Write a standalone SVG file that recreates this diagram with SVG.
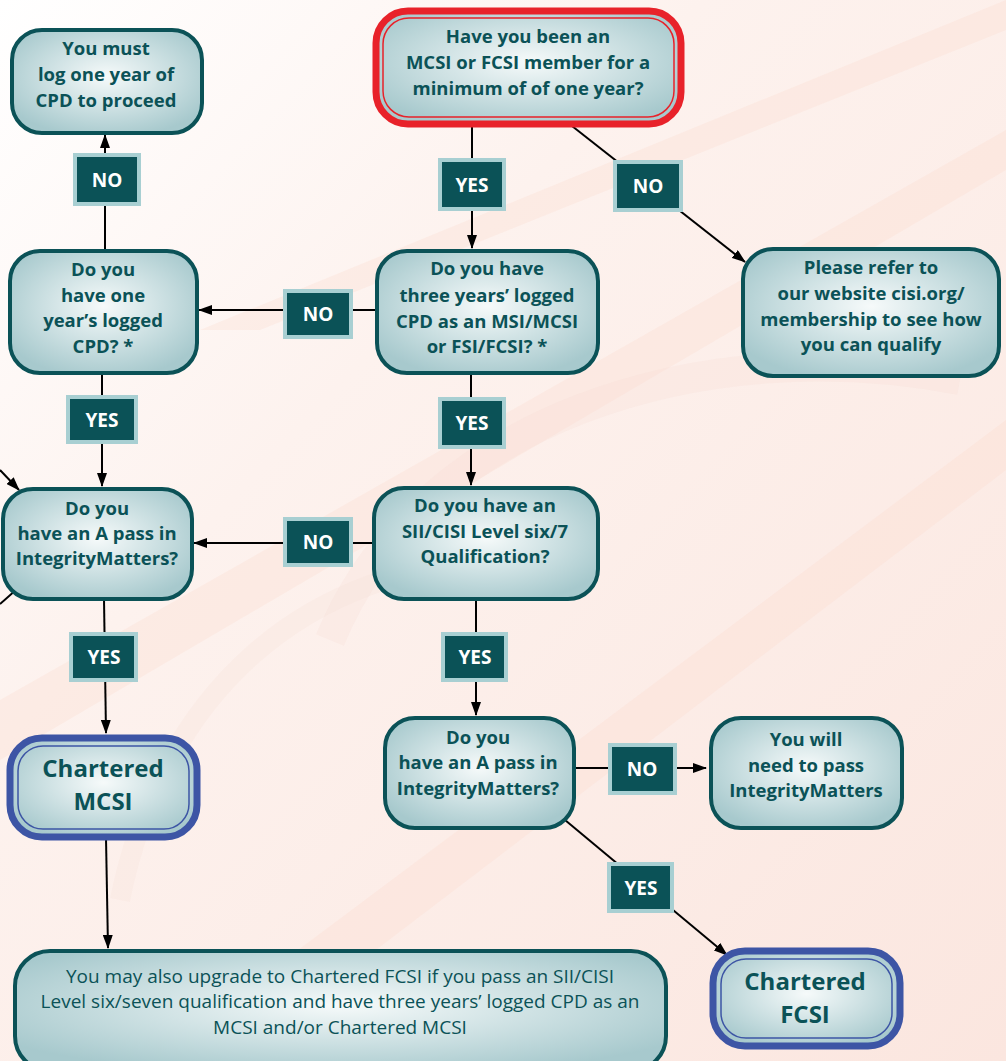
<svg xmlns="http://www.w3.org/2000/svg" width="1006" height="1061" viewBox="0 0 1006 1061">
<defs>
<radialGradient id="nodeFill" cx="50%" cy="45%" r="60%">
<stop offset="0" stop-color="#f6fafa"/>
<stop offset="1" stop-color="#a7c9cd"/>
</radialGradient>
<linearGradient id="bg" x1="0" y1="0" x2="1" y2="1">
<stop offset="0" stop-color="#ffffff"/>
<stop offset="0.35" stop-color="#fdf2ee"/>
<stop offset="1" stop-color="#fbe6df"/>
</linearGradient>
<marker id="arr" viewBox="0 0 14 10" refX="13" refY="5" markerWidth="14" markerHeight="10" markerUnits="userSpaceOnUse" orient="auto">
<path d="M0,0 L14,5 L0,10 z" fill="#000"/>
</marker>
<style>
.node{fill:url(#nodeFill);stroke:#0b5257;stroke-width:4}
.t{font-family:"Open Sans","Liberation Sans",sans-serif;font-weight:700;font-size:18.5px;fill:#0b5257;text-anchor:middle}
.tr{font-family:"Open Sans","Liberation Sans",sans-serif;font-weight:400;font-size:19px;fill:#0b5257;text-anchor:middle}
.big{font-family:"Open Sans","Liberation Sans",sans-serif;font-weight:700;font-size:24px;fill:#0b5257;text-anchor:middle}
.lblOut{fill:#a8cfd2}
.lblIn{fill:#0b5257}
.lt{font-family:"Open Sans","Liberation Sans",sans-serif;font-weight:700;font-size:19px;fill:#ffffff;text-anchor:middle}
.con{stroke:#000;stroke-width:2;fill:none}
.blueOut{fill:url(#nodeFill);stroke:#3d55a5;stroke-width:7}
.blueIn{fill:none;stroke:#3d55a5;stroke-width:1.5}
.redOut{fill:url(#nodeFill);stroke:#e8222a;stroke-width:7}
.redIn{fill:none;stroke:#e8222a;stroke-width:1.5}
.stripe{fill:#fbd9cc;opacity:0.3}
</style>
</defs>
<rect x="0" y="0" width="1006" height="1061" fill="url(#bg)"/>
<g id="background">
<path class="stripe" d="M150,1061 L1006,420 L1006,470 L230,1061 Z"/>
<path class="stripe" d="M0,700 L1006,130 L1006,170 L0,760 Z"/>
<path class="stripe" d="M200,330 L1006,0 L1006,30 L260,330 Z"/>
<path d="M330,640 C420,420 700,330 960,380" fill="none" stroke="#f7ddd3" stroke-width="30" opacity="0.25"/>
<path d="M120,900 C160,700 300,560 520,560" fill="none" stroke="#f7ddd3" stroke-width="20" opacity="0.2"/>
</g>
<g id="connectors">
<line class="con" x1="105" y1="250" x2="105" y2="135" marker-end="url(#arr)"/>
<line class="con" x1="472" y1="127" x2="472" y2="248" marker-end="url(#arr)"/>
<line class="con" x1="572" y1="126" x2="745" y2="262" marker-end="url(#arr)"/>
<line class="con" x1="376" y1="310" x2="199" y2="310" marker-end="url(#arr)"/>
<line class="con" x1="102" y1="374" x2="102" y2="486" marker-end="url(#arr)"/>
<line class="con" x1="471" y1="373" x2="471" y2="485" marker-end="url(#arr)"/>
<line class="con" x1="373" y1="543" x2="194" y2="543" marker-end="url(#arr)"/>
<line class="con" x1="104" y1="599" x2="106" y2="733" marker-end="url(#arr)"/>
<line class="con" x1="476" y1="599" x2="476" y2="715" marker-end="url(#arr)"/>
<line class="con" x1="574" y1="768" x2="706" y2="768" marker-end="url(#arr)"/>
<line class="con" x1="565" y1="820" x2="727" y2="955" marker-end="url(#arr)"/>
<line class="con" x1="106" y1="838" x2="108" y2="948" marker-end="url(#arr)"/>
<line class="con" x1="0" y1="470" x2="19" y2="490" marker-end="url(#arr)"/>
<line class="con" x1="17" y1="589" x2="0" y2="604"/>
</g>
<g id="node-log-one-year">
<rect class="node" x="12" y="30" width="190" height="103" rx="30"/>
<text class="t" x="106" y="55">You must</text>
<text class="t" x="106" y="81">log one year of</text>
<text class="t" x="106" y="107">CPD to proceed</text>
</g>
<g id="node-member">
<rect class="redOut" x="376" y="11" width="305" height="113" rx="32"/>
<rect class="redIn" x="383" y="18" width="291" height="99" rx="26"/>
<text class="t" x="528" y="43">Have you been an</text>
<text class="t" x="528" y="69">MCSI or FCSI member for a</text>
<text class="t" x="528" y="95">minimum of of one year?</text>
</g>
<g id="node-one-year">
<rect class="node" x="10" y="251" width="187" height="122" rx="30"/>
<text class="t" x="103" y="276">Do you</text>
<text class="t" x="103" y="302">have one</text>
<text class="t" x="103" y="327">year’s logged</text>
<text class="t" x="103" y="353">CPD? *</text>
</g>
<g id="node-three-years">
<rect class="node" x="377" y="251" width="221" height="122" rx="30"/>
<text class="t" x="487" y="275">Do you have</text>
<text class="t" x="487" y="302">three years’ logged</text>
<text class="t" x="487" y="328">CPD as an MSI/MCSI</text>
<text class="t" x="487" y="353">or FSI/FCSI? *</text>
</g>
<g id="node-website">
<rect class="node" x="743" y="249" width="256" height="127" rx="30"/>
<text class="t" x="871" y="274">Please refer to</text>
<text class="t" x="871" y="300">our website cisi.org/</text>
<text class="t" x="871" y="326">membership to see how</text>
<text class="t" x="871" y="351">you can qualify</text>
</g>
<g id="node-apass-left">
<rect class="node" x="3" y="489" width="189" height="110" rx="30"/>
<text class="t" x="97" y="515">Do you</text>
<text class="t" x="97" y="540">have an A pass in</text>
<text class="t" x="97" y="565">IntegrityMatters?</text>
</g>
<g id="node-sii">
<rect class="node" x="374" y="488" width="224" height="111" rx="30"/>
<text class="t" x="485" y="512">Do you have an</text>
<text class="t" x="485" y="538">SII/CISI Level six/7</text>
<text class="t" x="485" y="563">Qualification?</text>
</g>
<g id="node-chartered-mcsi">
<rect class="blueOut" x="10" y="738" width="187" height="99" rx="32"/>
<rect class="blueIn" x="18" y="746" width="171" height="83" rx="25"/>
<text class="big" x="103" y="777">Chartered</text>
<text class="big" x="103" y="810">MCSI</text>
</g>
<g id="node-apass-right">
<rect class="node" x="385" y="718" width="189" height="110" rx="30"/>
<text class="t" x="478" y="744">Do you</text>
<text class="t" x="478" y="769">have an A pass in</text>
<text class="t" x="478" y="795">IntegrityMatters?</text>
</g>
<g id="node-need-pass">
<rect class="node" x="711" y="718" width="191" height="110" rx="30"/>
<text class="t" x="806" y="746">You will</text>
<text class="t" x="806" y="772">need to pass</text>
<text class="t" x="806" y="797">IntegrityMatters</text>
</g>
<g id="node-upgrade">
<rect class="node" x="15" y="951" width="651" height="120" rx="35"/>
<text class="tr" x="340" y="983">You may also upgrade to Chartered FCSI if you pass an SII/CISI</text>
<text class="tr" x="340" y="1008">Level six/seven qualification and have three years’ logged CPD as an</text>
<text class="tr" x="340" y="1034">MCSI and/or Chartered MCSI</text>
</g>
<g id="node-chartered-fcsi">
<rect class="blueOut" x="713" y="951" width="187" height="95" rx="32"/>
<rect class="blueIn" x="721" y="959" width="171" height="79" rx="25"/>
<text class="big" x="805" y="990">Chartered</text>
<text class="big" x="805" y="1023">FCSI</text>
</g>
<g id="labels">
<g><rect class="lblOut" x="73" y="153" width="68" height="53"/><rect class="lblIn" x="77" y="157" width="60" height="45"/><text class="lt" x="107" y="187">NO</text></g>
<g><rect class="lblOut" x="438" y="158" width="68" height="53"/><rect class="lblIn" x="442" y="162" width="60" height="45"/><text class="lt" x="472" y="192">YES</text></g>
<g><rect class="lblOut" x="613" y="160" width="70" height="52"/><rect class="lblIn" x="617" y="164" width="62" height="44"/><text class="lt" x="648" y="193">NO</text></g>
<g><rect class="lblOut" x="283" y="289" width="70" height="50"/><rect class="lblIn" x="287" y="293" width="62" height="42"/><text class="lt" x="318" y="321">NO</text></g>
<g><rect class="lblOut" x="66" y="395" width="72" height="49"/><rect class="lblIn" x="70" y="399" width="64" height="41"/><text class="lt" x="102" y="427">YES</text></g>
<g><rect class="lblOut" x="438" y="397" width="68" height="52"/><rect class="lblIn" x="442" y="401" width="60" height="44"/><text class="lt" x="472" y="430">YES</text></g>
<g><rect class="lblOut" x="283" y="517" width="70" height="50"/><rect class="lblIn" x="287" y="521" width="62" height="42"/><text class="lt" x="318" y="549">NO</text></g>
<g><rect class="lblOut" x="69" y="632" width="69" height="50"/><rect class="lblIn" x="73" y="636" width="61" height="42"/><text class="lt" x="104" y="664">YES</text></g>
<g><rect class="lblOut" x="441" y="632" width="67" height="50"/><rect class="lblIn" x="445" y="636" width="59" height="42"/><text class="lt" x="475" y="664">YES</text></g>
<g><rect class="lblOut" x="608" y="743" width="69" height="52"/><rect class="lblIn" x="612" y="747" width="61" height="44"/><text class="lt" x="642" y="776">NO</text></g>
<g><rect class="lblOut" x="607" y="862" width="67" height="51"/><rect class="lblIn" x="611" y="866" width="59" height="43"/><text class="lt" x="641" y="895">YES</text></g>
</g>
</svg>
